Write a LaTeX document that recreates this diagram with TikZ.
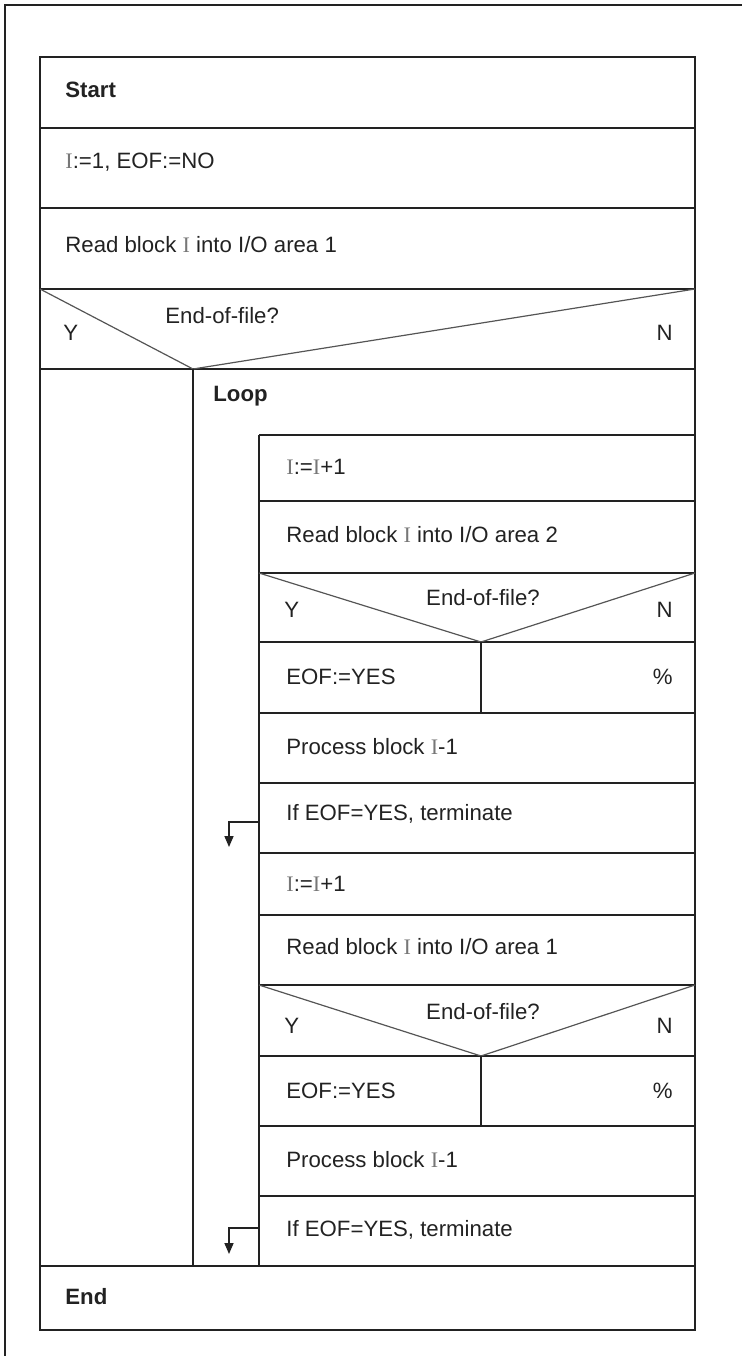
\documentclass[tikz,border=0pt]{standalone}
\usepackage{fontspec}
\setmainfont{Liberation Sans}
\newfontfamily\serifI{Liberation Serif}
\usetikzlibrary{arrows.meta}
\definecolor{Ink}{HTML}{222222}
\definecolor{Diag}{HTML}{555555}
\definecolor{IGray}{HTML}{777777}
\newcommand{\varI}{{\serifI\color{IGray}I}}
\tikzset{rule/.style={line width=1pt,draw=Ink},frame/.style={line width=.8pt,draw=Ink},diag/.style={line width=.6pt,draw=Diag},txt/.style={anchor=west,inner sep=0pt,font=\fontsize{11.1}{13}\selectfont,text=Ink},rtxt/.style={txt,anchor=east},ctxt/.style={txt,anchor=center},head/.style={txt,font=\fontsize{11.1}{13}\selectfont\bfseries},exit/.style={-{Triangle[length=5.5pt,width=4.5pt]},line width=.8pt,draw=Ink}}

\begin{document}
\begin{tikzpicture}[x=.5pt,y=-.5pt]
      \useasboundingbox (0,0) rectangle (742,1356);
      % page frame
      \draw[frame] (5,1356)--(5,5)--(742,5);
      % outer block
      \draw[rule] (40,57) rectangle (695,1330);
      \foreach \y in {128,208,289,369,1266} \draw[rule] (40,\y)--(695,\y);
      \draw[diag] (40,289)--(193,369)--(695,289);
      \draw[rule] (193,369)--(193,1266);
      % loop body
      \draw[rule] (259,435)--(695,435);
      \draw[rule] (259,435)--(259,1266);
      \foreach \y in {501,573,642,713,783,853,915,985,1056,1126,1196} \draw[rule] (259,\y)--(695,\y);
      \draw[diag] (259,573)--(481,642)--(695,573);
      \draw[diag] (259,985)--(481,1056)--(695,985);
      \draw[rule] (481,642)--(481,713);
      \draw[rule] (481,1056)--(481,1126);
      % texts
      \node[head](start) at (65,90){Start};
      \node[txt](init) at (65,162){\varI:=1, EOF:=NO};
      \node[txt](readA) at (65,245){Read block \varI{} into I/O area 1};
      \node[txt](yA) at (63,333){Y};
      \node[txt](askA) at (165,316){End-of-file?};
      \node[rtxt](nA) at (673,333){N};
      \node[head](loop) at (213,396){Loop};
      \node[txt](incB) at (286,467){\varI:=\varI+1};
      \node[txt](readB) at (286,535){Read block \varI{} into I/O area 2};
      \node[txt](yB) at (284,610){Y};
      \node[ctxt](askB) at (483,598){End-of-file?};
      \node[rtxt](nB) at (673,610){N};
      \node[txt](eofB) at (286,677){EOF:=YES};
      \node[rtxt](nilB) at (673,677){\%};
      \node[txt](procB) at (286,747){Process block \varI-1};
      \node[txt](termB) at (286,814){If EOF=YES, terminate};
      \node[txt](incC) at (286,884){\varI:=\varI+1};
      \node[txt](readC) at (286,947){Read block \varI{} into I/O area 1};
      \node[txt](yC) at (284,1026){Y};
      \node[ctxt](askC) at (483,1012){End-of-file?};
      \node[rtxt](nC) at (673,1026){N};
      \node[txt](eofC) at (286,1091){EOF:=YES};
      \node[rtxt](nilC) at (673,1091){\%};
      \node[txt](procC) at (286,1160){Process block \varI-1};
      \node[txt](termC) at (286,1230){If EOF=YES, terminate};
      \node[head](stop) at (65,1297){End};
      % exits
      \coordinate (brkB) at (259,822);\coordinate (outB) at (229,847);
      \coordinate (brkC) at (259,1228);\coordinate (outC) at (229,1254);
      \draw[exit](brkB)-|(outB);
      \draw[exit](brkC)-|(outC);
    \end{tikzpicture}
\end{document}
